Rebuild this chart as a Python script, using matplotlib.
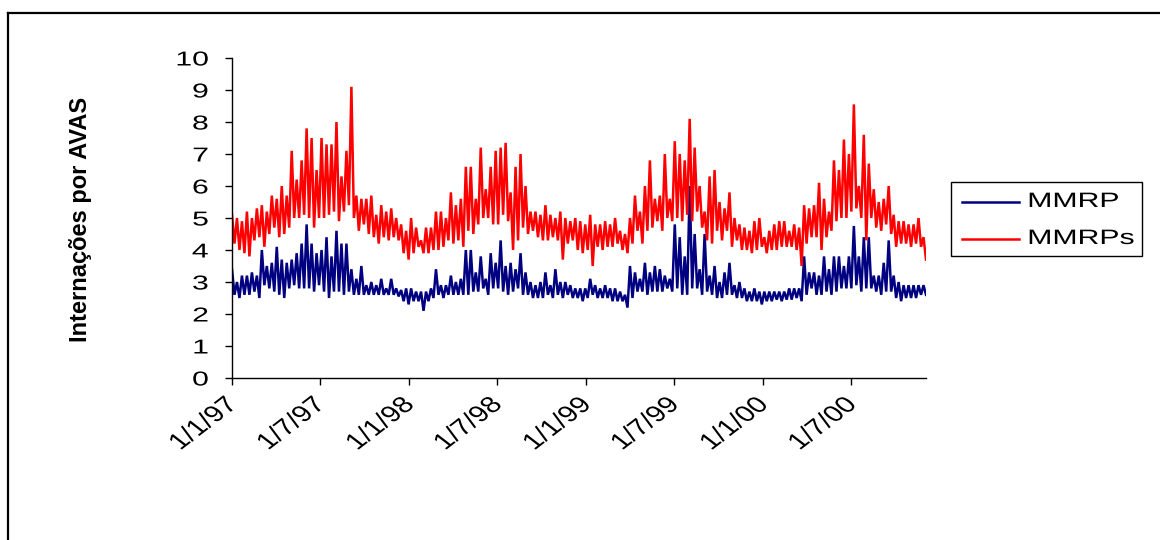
import matplotlib
matplotlib.use("Agg")
import matplotlib.pyplot as plt
from matplotlib.lines import Line2D
from matplotlib.patches import Rectangle
from matplotlib.patheffects import AbstractPathEffect
from matplotlib.transforms import Affine2D, ScaledTranslation
import pandas as pd

# Daily admissions per AVAS, sampled as alternating highs/lows (about every 5 days)
mmrp = [
    3.4, 2.6, 3.0, 2.5, 3.2, 2.6, 3.2, 2.6, 3.3, 2.7, 3.2, 2.5, 4.0, 2.9, 3.5, 2.8,
    3.6, 2.7, 4.1, 2.6, 3.7, 2.5, 3.6, 2.8, 3.7, 2.9, 3.9, 2.8, 4.2, 2.8, 4.8, 2.8,
    4.2, 2.7, 3.9, 2.9, 4.0, 2.7, 4.4, 2.5, 3.8, 2.7, 4.6, 2.7, 4.2, 2.6, 4.2, 2.7,
    3.4, 2.6, 3.1, 2.6, 3.5, 2.6, 2.9, 2.6, 3.0, 2.6, 2.9, 2.6, 3.1, 2.6, 2.8, 2.6,
    3.1, 2.6, 2.8, 2.55, 2.75, 2.4, 2.8, 2.3, 2.8, 2.4, 2.7, 2.4, 2.7, 2.1, 2.7, 2.4,
    2.8, 2.5, 3.4, 2.6, 2.9, 2.5, 2.9, 2.6, 3.2, 2.6, 3.0, 2.6, 3.1, 2.6, 4.0, 2.6,
    4.0, 2.7, 3.3, 2.7, 3.8, 2.8, 3.1, 2.6, 3.9, 2.8, 3.6, 2.8, 4.3, 2.7, 3.5, 2.6,
    3.6, 2.7, 3.4, 2.8, 3.9, 2.6, 3.3, 2.6, 3.0, 2.5, 2.9, 2.5, 3.0, 2.5, 3.3, 2.6,
    2.9, 2.5, 3.4, 2.6, 3.0, 2.5, 3.0, 2.6, 2.9, 2.5, 2.8, 2.5, 2.8, 2.4, 2.8, 2.5,
    3.1, 2.6, 2.9, 2.5, 2.8, 2.5, 2.9, 2.5, 2.8, 2.4, 2.8, 2.4, 2.7, 2.4, 2.6, 2.2,
    3.5, 2.5, 3.3, 2.7, 3.1, 2.7, 3.6, 2.6, 3.3, 2.7, 3.5, 2.7, 3.4, 2.7, 3.2, 2.8,
    3.1, 2.7, 4.8, 2.8, 4.4, 2.6, 3.8, 2.6, 6.0, 2.8, 4.5, 2.8, 3.4, 2.6, 4.5, 2.7,
    3.2, 2.6, 3.5, 2.5, 3.0, 2.5, 3.3, 2.6, 3.6, 2.6, 2.9, 2.5, 3.0, 2.5, 2.8, 2.4,
    2.7, 2.4, 2.8, 2.4, 2.7, 2.3, 2.7, 2.4, 2.7, 2.4, 2.7, 2.45, 2.7, 2.4, 2.7, 2.45,
    2.8, 2.45, 2.8, 2.5, 2.8, 2.4, 3.8, 2.6, 3.3, 2.8, 3.3, 2.6, 3.2, 2.6, 3.8, 2.7,
    3.4, 2.6, 3.8, 2.7, 3.8, 2.8, 3.5, 2.8, 3.8, 2.8, 4.75, 2.9, 3.8, 2.7, 4.4, 2.8,
    4.4, 2.8, 3.2, 2.7, 3.2, 2.6, 3.6, 2.7, 4.3, 2.7, 3.2, 2.5, 3.0, 2.4, 2.9, 2.5,
    2.9, 2.5, 2.9, 2.5, 2.9, 2.6, 2.9, 2.6,
]

mmrps = [
    5.1, 4.2, 5.0, 4.0, 4.9, 3.9, 5.2, 3.8, 5.0, 4.3, 5.3, 4.4, 5.4, 4.1, 5.2, 4.5,
    5.7, 4.7, 5.6, 4.4, 6.0, 4.5, 5.7, 4.7, 7.1, 5.0, 6.2, 5.0, 6.8, 5.1, 7.8, 5.0,
    7.5, 4.7, 6.5, 5.0, 7.5, 5.0, 7.3, 5.1, 7.3, 5.2, 8.0, 4.9, 6.3, 5.2, 7.1, 5.4,
    9.1, 5.0, 5.7, 4.6, 5.6, 4.8, 5.6, 4.5, 5.7, 4.4, 5.1, 4.2, 5.4, 4.4, 5.2, 4.3,
    5.3, 4.4, 5.0, 4.3, 4.8, 3.9, 4.6, 3.7, 5.0, 3.9, 4.7, 4.1, 4.3, 3.9, 4.7, 3.9,
    4.7, 4.0, 5.2, 4.0, 5.2, 4.1, 5.0, 4.3, 5.8, 4.2, 5.4, 4.3, 5.6, 4.1, 6.6, 4.6,
    6.6, 4.5, 5.6, 4.8, 7.2, 5.0, 5.9, 5.0, 6.6, 4.8, 7.1, 4.8, 7.2, 5.1, 7.35, 4.9,
    5.8, 4.0, 6.6, 4.3, 7.0, 4.7, 6.0, 4.5, 5.2, 4.6, 5.2, 4.4, 5.1, 4.3, 5.4, 4.3,
    5.1, 4.4, 5.0, 4.3, 5.2, 3.7, 5.0, 4.2, 4.9, 4.3, 5.0, 4.0, 4.9, 3.9, 4.8, 4.0,
    5.1, 3.5, 4.8, 4.1, 4.8, 4.0, 4.9, 4.1, 4.8, 4.1, 5.0, 4.2, 4.6, 4.0, 4.5, 3.9,
    5.0, 4.2, 5.7, 4.6, 5.2, 4.2, 6.0, 4.6, 6.8, 4.7, 5.6, 4.9, 5.7, 4.6, 7.0, 5.0,
    5.6, 4.9, 7.4, 5.0, 7.0, 4.9, 6.8, 5.1, 8.1, 4.9, 7.2, 5.2, 6.0, 4.7, 5.2, 4.3,
    6.3, 4.2, 6.5, 4.6, 5.5, 4.3, 5.3, 4.6, 5.8, 4.1, 5.0, 4.3, 4.8, 4.0, 4.7, 4.0,
    4.6, 3.9, 4.9, 4.0, 5.0, 4.1, 4.4, 3.9, 4.6, 4.0, 4.8, 4.0, 4.9, 4.1, 4.9, 4.1,
    4.6, 4.1, 4.8, 4.0, 4.7, 3.5, 5.4, 4.2, 5.3, 4.4, 5.4, 4.4, 6.1, 4.0, 5.6, 4.4,
    5.2, 4.6, 6.8, 4.9, 6.5, 5.0, 7.45, 5.0, 7.0, 5.2, 8.55, 5.3, 6.0, 5.0, 7.6, 4.3,
    6.7, 5.0, 5.9, 4.7, 5.5, 4.6, 5.6, 4.8, 6.0, 4.5, 5.1, 4.1, 4.9, 4.2, 4.9, 4.2,
    4.8, 4.1, 4.8, 4.2, 5.0, 4.1, 4.4, 3.7,
]

series_labels = ["MMRP", "MMRPs"]
series_colors = ["#000080", "#ff0000"]
tick_dates = ["1997-01-01", "1997-07-01", "1998-01-01", "1998-07-01",
              "1999-01-01", "1999-07-01", "2000-01-01", "2000-07-01"]
tick_labels = ["1/1/97", "1/7/97", "1/1/98", "1/7/98",
               "1/1/99", "1/7/99", "1/1/00", "1/7/00"]
y_ticks = list(range(0, 11))
start_date, end_date = "1997-01-01", "2000-12-02"

dates = pd.date_range(start_date, end_date, periods=len(mmrp))


class HStretch(AbstractPathEffect):
    """Widen glyphs horizontally (in display space) about an anchor point."""

    def __init__(self, sx, anchor="right"):
        super().__init__()
        self.sx = sx
        self.anchor = anchor

    def draw_path(self, renderer, gc, tpath, affine, rgbFace=None):
        if len(tpath.vertices) == 0:
            renderer.draw_path(gc, tpath, affine, rgbFace)
            return
        ext = tpath.get_extents()
        lx = {"left": ext.x0, "right": ext.x1,
              "center": 0.5 * (ext.x0 + ext.x1)}[self.anchor]
        ly = 0.5 * (ext.y0 + ext.y1)
        px, py = affine.transform((lx, ly))
        widen = Affine2D().translate(-px, -py).scale(self.sx, 1.0).translate(px, py)
        renderer.draw_path(gc, tpath, affine + widen, rgbFace)


W, H = 1160, 540


def fx(px):
    return px / W


def fy(py):
    return 1 - py / H


plt.rcParams["font.family"] = ["Liberation Sans", "DejaVu Sans"]

fig = plt.figure(figsize=(W / 100, H / 100), dpi=100)
ax = fig.add_axes([fx(232), fy(378), 694 / W, 320 / H])

for vals, col, lab in zip([mmrp, mmrps], series_colors, series_labels):
    ax.plot(dates, vals, color=col, lw=1.8, label=lab, solid_joinstyle="miter")

ax.set_xlim(pd.Timestamp(start_date), pd.Timestamp(end_date))
ax.set_ylim(0, 10)
ax.set_yticks(y_ticks)
ax.set_yticklabels([str(v) for v in y_ticks], fontsize=14.5)
ax.set_xticks(pd.to_datetime(tick_dates))
ax.set_xticklabels(tick_labels, fontsize=16.5, rotation=45, ha="right",
                   rotation_mode="anchor")

for side in ("top", "right"):
    ax.spines[side].set_visible(False)
for side in ("left", "bottom"):
    ax.spines[side].set_color("black")
    ax.spines[side].set_linewidth(1.0)
ax.tick_params(axis="both", direction="out", length=5, width=1.0, color="black")
ax.tick_params(axis="y", pad=12)
ax.tick_params(axis="x", pad=5.8)

for lbl in ax.get_yticklabels():
    lbl.set_path_effects([HStretch(1.5, "right")])

# Date labels: slightly widened and set a little to the left of their ticks
shift_left = ScaledTranslation(-0.08, 0, fig.dpi_scale_trans)
for lbl in ax.get_xticklabels():
    lbl.set_transform(lbl.get_transform() + shift_left)
    lbl.set_path_effects([HStretch(1.3, "right")])

fig.text(fx(80), fy(219), "Internações por AVAS", rotation=90,
         ha="center", va="center", fontsize=17, fontweight="bold")

# Legend box drawn from the series styles
fig.add_artist(Rectangle((fx(951), fy(256)), fx(1142) - fx(951), fy(182) - fy(256),
                         transform=fig.transFigure, facecolor="white",
                         edgecolor="black", lw=1.0))
for lab, col, ly in zip(series_labels, series_colors, [202, 239]):
    fig.add_artist(Line2D([fx(962), fx(1019)], [fy(ly), fy(ly)],
                          transform=fig.transFigure, color=col, lw=1.8))
    fig.text(fx(1028), fy(ly + 5), lab, fontsize=15, ha="left", va="baseline",
             path_effects=[HStretch(1.45, "left")])

# Chart-area frame: left and top edges
fig.add_artist(Line2D([fx(7.5), fx(7.5)], [fy(12.5), 0],
                      transform=fig.transFigure, color="black", lw=1.6))
fig.add_artist(Line2D([fx(7.5), 1], [fy(12.5), fy(12.5)],
                      transform=fig.transFigure, color="black", lw=1.6))

fig.savefig("out.png", dpi=100)
